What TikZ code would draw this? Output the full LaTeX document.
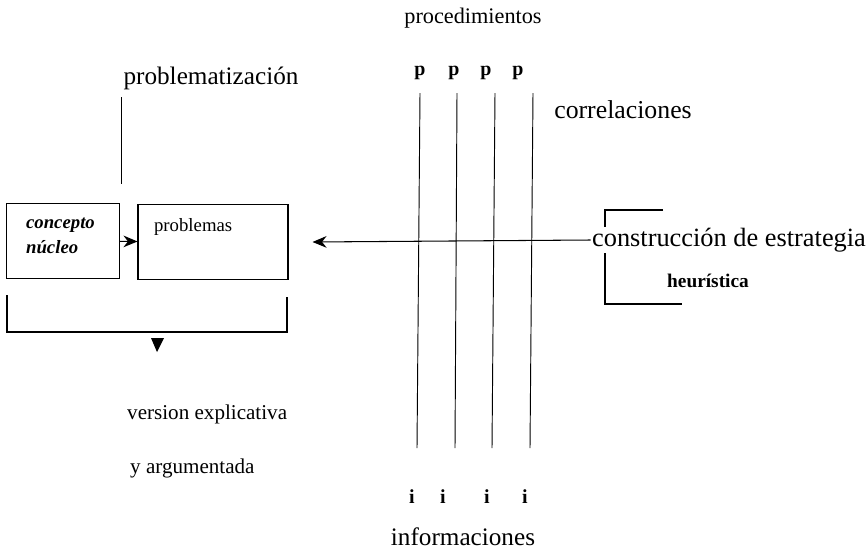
\documentclass[tikz,border=0pt]{standalone}
\usepackage{fontspec}
\setmainfont{Liberation Serif}
\usetikzlibrary{arrows.meta}
\begin{document}
\begin{tikzpicture}[
		x=0.03cm,y=-0.03cm,
		lbl/.style={inner sep=0pt,font=\fontsize{19}{21}\selectfont},
		small/.style={inner sep=0pt,font=\fontsize{16}{18}\selectfont},
		letter/.style={inner sep=0pt,font=\fontsize{17}{19}\selectfont\bfseries},
		boxed/.style={draw,line width=0.9pt,minimum width=113*0.03cm,minimum height=75*0.03cm,inner sep=0pt},
		tip/.style={-{Stealth[length=12pt,width=10pt]}}
	]
	\useasboundingbox (0,0) rectangle (866,551);
	% texts
	\node[lbl] (proc) at (473,18) {procedimientos};
	\node[lbl,font=\fontsize{21.5}{23}\selectfont] (prbz) at (211,78) {problematización};
	\node[lbl,font=\fontsize{22}{24}\selectfont] (corr) at (623,110) {correlaciones};
	\node[lbl,font=\fontsize{21.5}{23}\selectfont] (info) at (463,537) {informaciones};
	\node[lbl,font=\fontsize{18}{20}\selectfont,anchor=west] (vers) at (127,414) {version explicativa};
	\node[lbl,font=\fontsize{18}{20}\selectfont,anchor=west] (yarg) at (130,468) {y argumentada};
	% p and i
	\foreach \x [count=\n] in {420,454,486,518}
		\node[letter] (p\n) at (\x,73) {p};
	\foreach \x [count=\n] in {412,443,487,525}
		\node[letter] (i\n) at (\x,497) {i};
	% lines
	\foreach \a/\b in {420/417,457/455,495/492,533/530}
		\draw[line width=0.8pt] (\a,93) -- (\b,448);
	% boxes
	\node[boxed] (cn) at (63,241) {};
	\node[small,anchor=north west,align=left,font=\fontsize{16}{21}\selectfont\bfseries\itshape] at (cn.north west) [xshift=17pt,yshift=-13pt] {concepto\\núcleo};
	\node[boxed,minimum width=150*0.03cm] (prob) at (213,242) {};
	\node[small,anchor=north west] at (prob.north west) [xshift=14pt,yshift=-12pt] {problemas};
	\draw[tip,line width=0.9pt] (cn) -- (prob);
	\coordinate (vtop) at (121,97);
	\draw[line width=0.8pt] (vtop) -- (121,184);
	% bracket below
	\draw[line width=0.9pt] (7,295) |- (287,332) -- (287,297);
	\fill (151,338) -- (164,338) -- (157,352) -- cycle;
	% right side
	\draw[line width=0.9pt] (663,210) -| (605,304) -- (682,304);
	\node[lbl,fill=white,inner sep=1pt,font=\fontsize{22.5}{24}\selectfont] (cons) at (729,240) {construcción de estrategia};
	\node[letter,font=\fontsize{16.5}{18}\selectfont\bfseries] (heur) at (708,281) {heurística};
	\draw[tip,line width=0.9pt] (cons.west) -- ([xshift=24*0.03cm]prob.east);
\end{tikzpicture}
\end{document}
